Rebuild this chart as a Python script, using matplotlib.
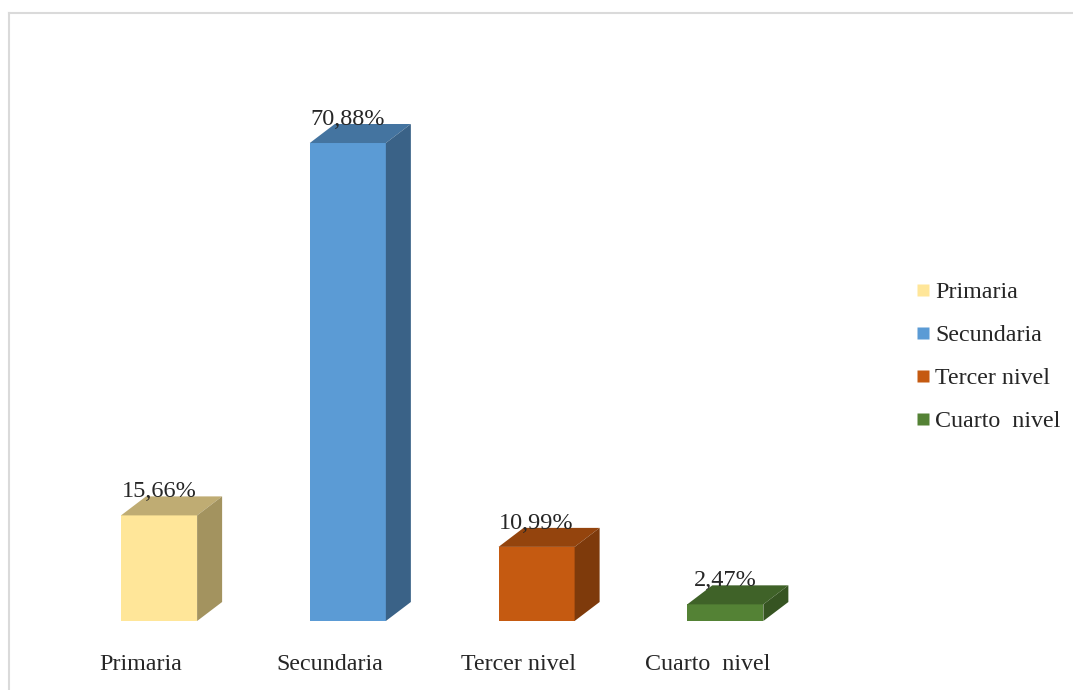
import matplotlib
matplotlib.use('Agg')
import matplotlib.pyplot as plt
import matplotlib.patches as patches
from matplotlib.lines import Line2D

plt.rcParams['font.family'] = ['Liberation Serif', 'DejaVu Serif']

categories = ["Primaria", "Secundaria", "Tercer nivel", "Cuarto  nivel"]
values = [15.66, 70.88, 10.99, 2.47]
labels = ["15,66%", "70,88%", "10,99%", "2,47%"]

front_colors = ["#FFE699", "#5B9BD5", "#C55A11", "#548235"]
top_colors = ["#BFAC73", "#4474A0", "#94440D", "#3F6228"]
side_colors = ["#A3935F", "#3A6287", "#7E3A0B", "#365422"]

W, H = 1073, 690
fig = plt.figure(figsize=(W / 100, H / 100), dpi=100)

# axes placed so y=0 lands on the bar base and x=0 on the first bar
ax = fig.add_axes([64.7 / W, 69 / H, 755 / W, 539.5 / H])
ax.set_xlim(-0.5, 3.5)
ax.set_ylim(0, 80)
for s in ax.spines.values():
    s.set_visible(False)
ax.set_yticks([])

bar_w = 0.403
depth_x = 25 / 188.7
depth_y = 19 / 6.744

for i, v in enumerate(values):
    l = i - bar_w / 2
    r = i + bar_w / 2
    ax.bar(i, v, width=bar_w, color=front_colors[i], zorder=2)
    # top face
    ax.add_patch(patches.Polygon(
        [(l, v), (r, v), (r + depth_x, v + depth_y), (l + depth_x, v + depth_y)],
        closed=True, fc=top_colors[i], ec='none', zorder=2))
    # side face
    ax.add_patch(patches.Polygon(
        [(r, 0), (r + depth_x, depth_y), (r + depth_x, v + depth_y), (r, v)],
        closed=True, fc=side_colors[i], ec='none', zorder=2))
    ax.annotate(labels[i], xy=(i, v), xytext=(0, 9.5), textcoords='offset points',
                ha='center', va='bottom', fontsize=17.5, color='#262626', zorder=3)

# category labels sit a bit left of the bars in the original
ax.set_xticks([i - 0.095 for i in range(len(categories))])
ax.set_xticklabels(categories, fontsize=17.3, color='#262626')
ax.tick_params(axis='x', length=0, pad=23.7)

handles = [Line2D([], [], marker='s', ls='none', ms=8.6, mfc=c, mec='none') for c in front_colors]
fig.legend(handles, categories, loc='center left', bbox_to_anchor=(916 / W, 1 - 357 / H),
           frameon=False, fontsize=17.3, labelspacing=0.88, handlelength=0.6, handletextpad=0.2,
           labelcolor='#262626', borderpad=0, borderaxespad=0)

# light frame on the top and left, as in the screenshot
fig.add_artist(Line2D([9 / W, 9 / W], [0, 1 - 13 / H], color='#DADADA', lw=1.5))
fig.add_artist(Line2D([9 / W, 1], [1 - 13 / H, 1 - 13 / H], color='#DADADA', lw=1.5))

fig.savefig('out.png', dpi=100)
